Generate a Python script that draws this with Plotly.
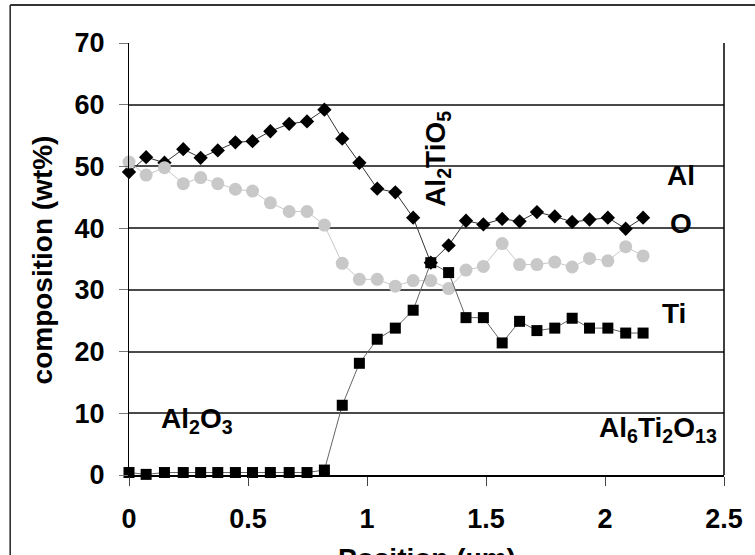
import plotly.graph_objects as go

# Position (µm) of each measurement point
position = [0.000, 0.072, 0.149, 0.228, 0.301, 0.373, 0.447, 0.519, 0.594, 0.673,
            0.748, 0.821, 0.896, 0.968, 1.043, 1.119, 1.194, 1.268, 1.343, 1.416,
            1.489, 1.568, 1.641, 1.714, 1.789, 1.862, 1.935, 2.012, 2.087, 2.160]

al_wt = [49.1, 51.5, 50.6, 52.8, 51.4, 52.6, 53.9, 54.1, 55.7, 56.9,
         57.3, 59.2, 54.5, 50.6, 46.4, 45.8, 41.7, 34.4, 37.2, 41.2,
         40.6, 41.5, 41.1, 42.6, 41.9, 41.0, 41.4, 41.7, 39.9, 41.7]

o_wt = [50.7, 48.6, 49.8, 47.2, 48.2, 47.2, 46.3, 46.0, 44.1, 42.7,
        42.7, 40.5, 34.3, 31.7, 31.7, 30.6, 31.5, 31.5, 30.2, 33.2,
        33.8, 37.5, 34.1, 34.1, 34.5, 33.7, 35.1, 34.7, 37.0, 35.5]

ti_wt = [0.4, 0.1, 0.4, 0.4, 0.4, 0.4, 0.4, 0.4, 0.4, 0.4,
         0.4, 0.8, 11.3, 18.1, 22.0, 23.8, 26.7, 34.4, 32.8, 25.5,
         25.5, 21.4, 24.9, 23.4, 23.8, 25.4, 23.8, 23.8, 23.0, 23.0]

x_ticks = [0, 0.5, 1, 1.5, 2, 2.5]
x_tick_labels = ["0", "0.5", "1", "1.5", "2", "2.5"]
y_ticks = [0, 10, 20, 30, 40, 50, 60, 70]

FONT = "Liberation Sans, Arial, sans-serif"

fig = go.Figure()
fig.add_trace(go.Scatter(
    x=position, y=al_wt, mode="lines+markers", name="Al", cliponaxis=False,
    line=dict(color="#333333", width=1),
    marker=dict(symbol="diamond", size=11, color="black")))
fig.add_trace(go.Scatter(
    x=position, y=o_wt, mode="lines+markers", name="O", cliponaxis=False,
    line=dict(color="#c8c8c8", width=1),
    marker=dict(symbol="circle", size=13, color="#c8c8c8")))
fig.add_trace(go.Scatter(
    x=position, y=ti_wt, mode="lines+markers", name="Ti", cliponaxis=False,
    line=dict(color="#666666", width=1),
    marker=dict(symbol="square", size=11, color="black")))

fig.update_layout(
    width=755, height=555,
    margin=dict(l=129, r=25, t=43, b=80),
    paper_bgcolor="white", plot_bgcolor="white",
    showlegend=False,
    font=dict(family=FONT, color="black"),
)
fig.update_xaxes(
    range=[0, 2.5], tickvals=x_ticks, ticktext=x_tick_labels,
    showgrid=False, zeroline=False,
    showline=True, linecolor="black", linewidth=2,
    ticks="outside", ticklen=9, tickcolor="#444444", tickwidth=1,
    tickfont=dict(family=FONT, size=27, weight="bold", color="black"),
    ticklabelstandoff=10,
)
fig.update_yaxes(
    range=[0, 70], tickvals=y_ticks,
    showgrid=True, gridcolor="#4a4a4a", gridwidth=1.5,
    zeroline=False,
    showline=True, linecolor="black", linewidth=1,
    ticks="outside", ticklen=9, tickcolor="#777777", tickwidth=1,
    tickfont=dict(family=FONT, size=27, weight="bold", color="black"),
    ticklabelstandoff=9,
)

# outer chart frame and right plot border
fig.add_shape(type="line", xref="paper", yref="paper", x0=-0.1997, x1=-0.1997, y0=1.088, y1=-0.3,
              line=dict(color="#222222", width=1.5))
fig.add_shape(type="line", xref="paper", yref="paper", x0=-0.1997, x1=1.2, y0=1.088, y1=1.088,
              line=dict(color="#333333", width=2))
fig.add_shape(type="line", xref="paper", yref="paper", x0=1, x1=1, y0=0, y1=1,
              line=dict(color="black", width=1.5))

ann_font = dict(family=FONT, size=28, weight="bold", color="black")
notes = [
    ("Al", 2.321, 48.6, 0),
    ("O", 2.321, 40.8, 0),
    ("Ti", 2.290, 26.2, 0),
    ("Al<sub>2</sub>O<sub>3</sub>", 0.286, 8.9, 0),
    ("Al<sub>6</sub>Ti<sub>2</sub>O<sub>13</sub>", 2.221, 7.4, 0),
    ("Al<sub>2</sub>TiO<sub>5</sub>", 1.296, 51.3, -90),
]
for text, x, y, ang in notes:
    fig.add_annotation(x=x, y=y, xref="x", yref="y", text=text, showarrow=False,
                       textangle=ang, font=ann_font, xanchor="center", yanchor="middle")

fig.add_annotation(x=-0.146, y=0.497, xref="paper", yref="paper",
                   text="composition (wt%)", showarrow=False, textangle=-90,
                   font=ann_font, xanchor="center", yanchor="middle")
fig.add_annotation(x=0.5, y=-0.153, xref="paper", yref="paper",
                   text="Position (µm)", showarrow=False,
                   font=ann_font, xanchor="center", yanchor="top")

fig.write_html("out.html")
